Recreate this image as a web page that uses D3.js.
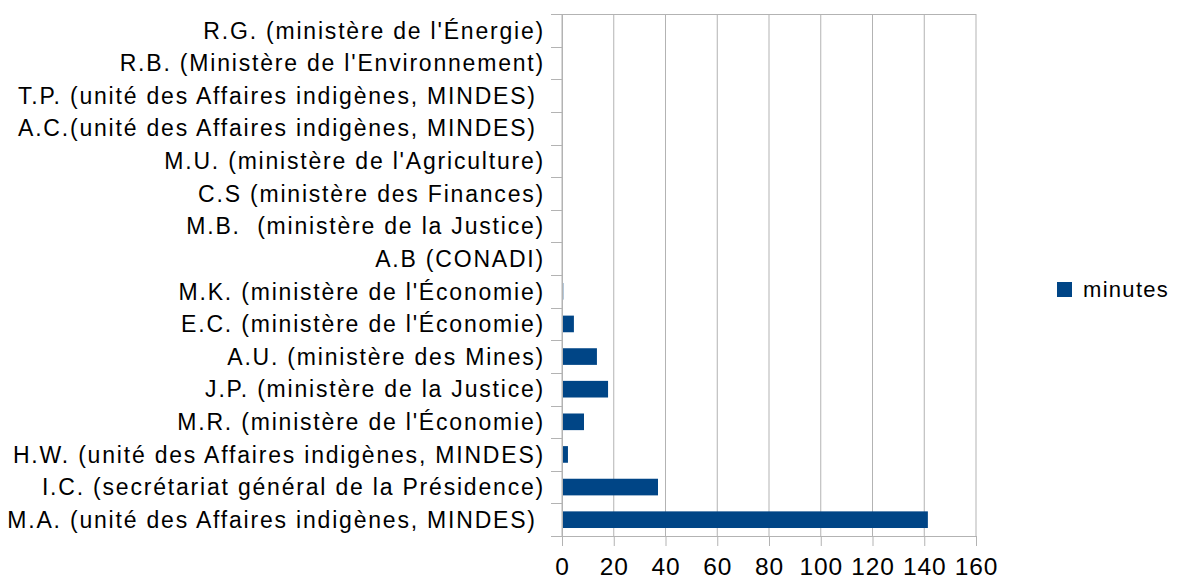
<!DOCTYPE html>
<html>
<head>
<meta charset="utf-8">
<script src="https://cdn.jsdelivr.net/npm/d3@7"></script>
<style>
  body { margin: 0; background: #fff; }
  text { font-family: "Liberation Sans", Arial, sans-serif; fill: #000; }
</style>
</head>
<body>
<div id="chart"></div>
<script>
// categories, top to bottom
var categories = [
  "R.G. (ministère de l'Énergie)",
  "R.B. (Ministère de l'Environnement)",
  "T.P. (unité des Affaires indigènes, MINDES) ",
  "A.C.(unité des Affaires indigènes, MINDES) ",
  "M.U. (ministère de l'Agriculture)",
  "C.S (ministère des Finances)",
  "M.B.  (ministère de la Justice)",
  "A.B (CONADI)",
  "M.K. (ministère de l'Économie)",
  "E.C. (ministère de l'Économie)",
  "A.U. (ministère des Mines)",
  "J.P. (ministère de la Justice)",
  "M.R. (ministère de l'Économie)",
  "H.W. (unité des Affaires indigènes, MINDES)",
  "I.C. (secrétariat général de la Présidence)",
  "M.A. (unité des Affaires indigènes, MINDES) "
];
var minutes = [0, 0, 0, 0, 0, 0, 0, 0, 0.5, 4.6, 13.5, 17.8, 8.5, 2.3, 37.1, 141.4];
var xTicks = [0, 20, 40, 60, 80, 100, 120, 140, 160];
var seriesName = "minutes";

var data = categories.map(function(c, i) { return {name: c, value: minutes[i]}; });

var margin = {top: 14, right: 207, bottom: 45, left: 562},
    width = 1183 - margin.left - margin.right,
    height = 581 - margin.top - margin.bottom;

const svg = d3.select('#chart')
    .append("svg")
    .attr("width", 1183)
    .attr("height", 581);

const g = svg.append("g")
    .attr("transform", `translate(${margin.left}, ${margin.top})`);

var x = d3.scaleLinear()
    .domain([0, 160])
    .range([0, width]);

var y = d3.scaleBand()
    .domain(categories)
    .range([0, height])
    .paddingInner(0.49)
    .paddingOuter(0.245);

var grid = "#b3b3b3";

// vertical gridlines
g.append("g")
    .selectAll("line")
    .data(xTicks)
    .join("line")
    .attr("x1", d => x(d)).attr("x2", d => x(d))
    .attr("y1", 0).attr("y2", height)
    .attr("stroke", grid)
    .attr("stroke-width", 1);

// top border
g.append("line")
    .attr("x1", -11).attr("x2", width)
    .attr("y1", 0.5).attr("y2", 0.5)
    .attr("stroke", grid);

// left ticks at category boundaries
var step = height / categories.length;
g.append("g")
    .selectAll("line")
    .data(d3.range(categories.length + 1))
    .join("line")
    .attr("x1", -11).attr("x2", 0)
    .attr("y1", d => Math.round(d * step) + 0.5)
    .attr("y2", d => Math.round(d * step) + 0.5)
    .attr("stroke", grid);

// bars
g.append("g")
    .selectAll("rect")
    .data(data)
    .join("rect")
    .attr("x", x(0))
    .attr("y", d => y(d.name))
    .attr("width", d => x(d.value) - x(0))
    .attr("height", y.bandwidth())
    .attr("fill", "#004586");

// x axis
var xAxis = g.append("g")
    .attr("transform", `translate(0, ${height})`)
    .call(d3.axisBottom(x).tickValues(xTicks).tickSize(10).tickPadding(12));
xAxis.select(".domain").attr("stroke", grid);
xAxis.selectAll(".tick line").attr("stroke", grid);
xAxis.selectAll(".tick text")
    .style("font-size", "24.5px")
    .style("letter-spacing", "0.8px")
    .style("font-family", "'Liberation Sans', Arial, sans-serif")
    .attr("fill", "#000");

// y axis line
g.append("line")
    .attr("x1", 0.5).attr("x2", 0.5)
    .attr("y1", 0).attr("y2", height + 10)
    .attr("stroke", grid);

// category labels
g.append("g")
    .selectAll("text")
    .data(categories)
    .join("text")
    .attr("x", -17)
    .attr("y", d => y(d) + y.bandwidth() / 2)
    .attr("dy", "0.36em")
    .attr("text-anchor", "end")
    .style("font-size", "23px")
    .style("letter-spacing", "1.8px")
    .style("white-space", "pre")
    .text(d => d);

// legend
var legend = svg.append("g")
    .attr("transform", "translate(1057, 282)");
legend.append("rect")
    .attr("width", 15).attr("height", 15)
    .attr("fill", "#004586");
legend.append("text")
    .attr("x", 26)
    .attr("y", 7.5)
    .attr("dy", "0.36em")
    .style("font-size", "22px")
    .style("letter-spacing", "1.3px")
    .text(seriesName);
</script>
</body>
</html>
